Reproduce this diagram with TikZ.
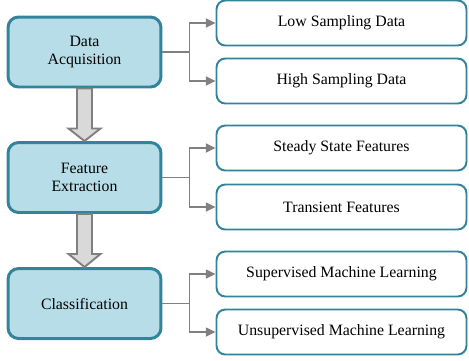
\documentclass[tikz,border=0pt]{standalone}
\usepackage{fontspec}
\setmainfont{Liberation Serif}
\usetikzlibrary{arrows.meta,calc}

\definecolor{stageline}{RGB}{49,132,155}
\definecolor{stagefill}{RGB}{183,221,232}
\definecolor{linkgray}{RGB}{128,128,128}
\definecolor{blockfill}{RGB}{217,217,217}

\begin{document}
\begin{tikzpicture}[
  x=0.02cm, y=-0.02cm,
  stage/.style={rectangle, rounded corners=6pt, draw=stageline, fill=stagefill, line width=1.7pt,
    minimum width=3.06cm, minimum height=1.4cm, align=center, font=\fontsize{9}{10.3}\selectfont},
  detail/.style={rectangle, rounded corners=5pt, draw=stageline, fill=white, line width=1.1pt,
    minimum width=5.0cm, minimum height=0.9cm, font=\fontsize{9}{11}\selectfont},
  link/.style={draw=linkgray, line width=1.1pt},
  linkarrow/.style={link, -{Triangle[length=5.5pt,width=5pt]}},
  blockarrow/.style={draw=linkgray, fill=blockfill, line width=1.1pt}
]
  \useasboundingbox (0,0) rectangle (469,360);

  % Etapas principales
  \node[stage] (acq) at (84.5, 52)   {Data\\Acquisition};
  \node[stage] (fex) at (84.5, 177.5) {Feature\\Extraction};
  \node[stage] (cls) at (84.5, 303.5) {Classification};

  % Detalles de cada etapa
  \node[detail] (low)   at (341.5, 23)  {Low Sampling Data};
  \node[detail] (high)  at (341.5, 81)  {High Sampling Data};
  \node[detail] (steady) at (341.5, 148) {Steady State Features};
  \node[detail] (trans) at (341.5, 207) {Transient Features};
  \node[detail] (sup)   at (341.5, 274) {Supervised Machine Learning};
  \node[detail] (unsup) at (341.5, 332) {Unsupervised Machine Learning};

  % Ramificaciones
  \coordinate (b1) at ($(acq.east)+(27,0)$);
  \coordinate (b2) at ($(fex.east)+(27,0)$);
  \coordinate (b3) at ($(cls.east)+(27,0)$);
  \draw[link] (acq.east) -- (b1);
  \draw[linkarrow] (b1) |- (low.west);
  \draw[linkarrow] (b1) |- (high.west);
  \draw[link] (fex.east) -- (b2);
  \draw[linkarrow] (b2) |- (steady.west);
  \draw[linkarrow] (b2) |- (trans.west);
  \draw[link] (cls.east) -- (b3);
  \draw[linkarrow] (b3) |- (sup.west);
  \draw[linkarrow] (b3) |- (unsup.west);

  % Flechas gruesas entre etapas
  \draw[blockarrow] ($(acq.south)+(-7.5,0)$) -- ($(acq.south)+(-7.5,40)$) -- ($(acq.south)+(-16,40)$)
    -- (fex.north) -- ($(acq.south)+(16,40)$) -- ($(acq.south)+(7.5,40)$) -- ($(acq.south)+(7.5,0)$) -- cycle;
  \draw[blockarrow] ($(fex.south)+(-7.5,0)$) -- ($(fex.south)+(-7.5,40)$) -- ($(fex.south)+(-16,40)$)
    -- (cls.north) -- ($(fex.south)+(16,40)$) -- ($(fex.south)+(7.5,40)$) -- ($(fex.south)+(7.5,0)$) -- cycle;
\end{tikzpicture}
\end{document}
